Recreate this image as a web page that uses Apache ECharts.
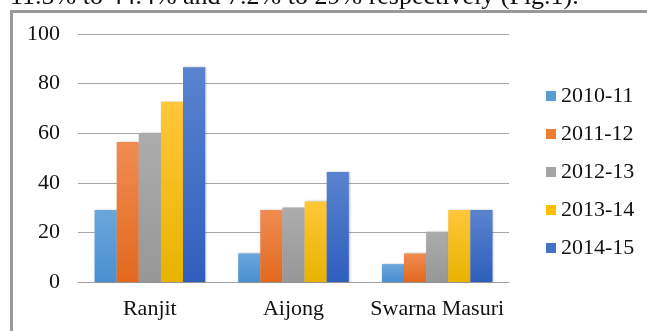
<!DOCTYPE html>
<html>
<head>
<meta charset="utf-8">
<style>
  html, body { margin: 0; padding: 0; background: #fff; }
  #chart { width: 647px; height: 331px; }
</style>
<script src="https://cdn.jsdelivr.net/npm/echarts@6/dist/echarts.min.js"></script>
</head>
<body>
<div id="chart"></div>
<script>
// Rice varieties and seasons
const categories = ['Ranjit', 'Aijong', 'Swarna Masuri'];
const seasons = ['2010-11', '2011-12', '2012-13', '2013-14', '2014-15'];

// Adoption (%) per season, one value per variety
const s2010 = [29.0, 11.5, 7.2];
const s2011 = [56.5, 29.0, 11.5];
const s2012 = [60.0, 30.0, 20.3];
const s2013 = [72.7, 32.5, 29.0];
const s2014 = [86.6, 44.4, 29.0];
const seriesValues = [s2010, s2011, s2012, s2013, s2014];

const yTicks = [0, 20, 40, 60, 80, 100];

// Flat legend colours and gradient stops (top, bottom) for the bars
const flatColors = ['#5b9bd5', '#ed7d31', '#a5a5a5', '#ffc000', '#4472c4'];
const gradStops = [
  ['#6aa6dc', '#4a8fd0'],
  ['#f08c52', '#e2691f'],
  ['#acacac', '#979797'],
  ['#ffc73a', '#e8b300'],
  ['#5a83cf', '#2f5ebd']
];

const serif = '"Liberation Serif", "Times New Roman", serif';

const chart = echarts.init(document.getElementById('chart'), null, { renderer: 'canvas' });

const series = seasons.map((name, i) => ({
  name: name,
  type: 'bar',
  data: seriesValues[i],
  barGap: '0%',
  barCategoryGap: '23%',
  itemStyle: {
    color: new echarts.graphic.LinearGradient(0, 0, 0, 1, [
      { offset: 0, color: gradStops[i][0] },
      { offset: 1, color: gradStops[i][1] }
    ]),
    shadowColor: 'rgba(0,0,0,0.25)',
    shadowBlur: 2,
    shadowOffsetX: 1
  },
  emphasis: { disabled: true }
}));

chart.setOption({
  animation: false,
  backgroundColor: '#fff',
  color: flatColors,
  grid: { left: 78, right: 138, top: 34, bottom: 49, containLabel: false },
  xAxis: {
    type: 'category',
    data: categories,
    axisLine: { show: true, lineStyle: { color: '#a0a0a0', width: 1 } },
    axisTick: { show: false },
    axisLabel: { interval: 0, fontFamily: serif, fontSize: 22, color: '#111', margin: 16 }
  },
  yAxis: {
    type: 'value',
    min: yTicks[0],
    max: yTicks[yTicks.length - 1],
    interval: 20,
    axisLine: { show: false },
    axisTick: { show: false },
    axisLabel: { fontFamily: serif, fontSize: 22, color: '#111', margin: 18 },
    splitLine: { lineStyle: { color: '#a6a6a6', width: 1 } }
  },
  legend: {
    orient: 'vertical',
    left: 546,
    top: 85,
    padding: 0,
    itemWidth: 10,
    itemHeight: 10,
    itemGap: 16,
    icon: 'rect',
    data: seasons.map((s, i) => ({ name: s, itemStyle: { color: flatColors[i] } })),
    textStyle: { fontFamily: serif, fontSize: 22, color: '#111', lineHeight: 22 }
  },
  graphic: [
    {
      type: 'text',
      left: 10,
      top: -16,
      silent: true,
      style: {
        text: '11.5% to 44.4% and 7.2% to 29% respectively (Fig.1).',
        font: '26px ' + serif,
        fill: '#111'
      }
    },
    {
      type: 'line',
      silent: true,
      shape: { x1: 10, y1: 11.5, x2: 647, y2: 11.5 },
      style: { stroke: '#999', lineWidth: 3 }
    },
    {
      type: 'line',
      silent: true,
      shape: { x1: 11.5, y1: 10, x2: 11.5, y2: 331 },
      style: { stroke: '#999', lineWidth: 3 }
    }
  ],
  series: series
});
</script>
</body>
</html>
